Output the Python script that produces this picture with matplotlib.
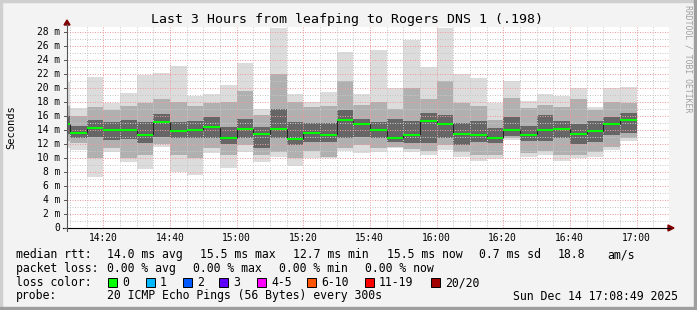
import matplotlib.pyplot as plt
from matplotlib.patches import Rectangle, Polygon
from matplotlib.lines import Line2D
import numpy as np

# 5 minute rounds, end of each round in minutes after 14:00
end_min = np.arange(10, 185, 5)

lo_ms  = [11.5, 11.2, 7.3, 10.8, 9.5, 8.5, 11.6, 8.0, 7.6, 10.7, 8.6, 10.9, 9.5, 10.2, 8.9, 10.0, 10.0, 11.0,
          10.7, 10.8, 11.4, 10.8, 10.5, 11.1, 10.2, 9.6, 9.9, 12.6, 10.2, 10.5, 9.6, 10.0, 10.2, 11.1, 12.4]
p10_ms = [12.5, 12.2, 10.0, 11.5, 10.0, 10.5, 12.0, 10.5, 10.0, 11.4, 10.4, 11.8, 10.5, 10.8, 10.0, 11.0, 10.2, 11.5,
          11.8, 11.5, 11.6, 11.3, 11.0, 11.8, 10.8, 10.5, 10.5, 12.8, 10.7, 11.0, 10.5, 10.5, 10.8, 11.6, 12.8]
p25_ms = [13.5, 12.9, 13.0, 12.6, 12.7, 12.2, 13.0, 12.8, 12.8, 12.8, 12.0, 12.8, 11.5, 12.8, 11.9, 12.3, 12.3, 12.8,
          13.0, 12.8, 12.3, 12.2, 12.2, 12.8, 11.8, 12.3, 12.2, 13.2, 12.4, 12.5, 12.8, 12.0, 12.3, 13.3, 13.6]
med_ms = [14.9, 13.6, 14.3, 14.0, 14.0, 13.3, 15.2, 13.9, 14.0, 14.5, 12.9, 14.1, 13.5, 14.2, 12.7, 13.6, 13.3, 15.5,
          14.8, 14.0, 12.9, 13.3, 15.3, 14.8, 13.5, 13.3, 12.9, 14.0, 13.3, 14.0, 14.2, 13.5, 13.9, 14.8, 15.5]
p75_ms = [16.0, 14.6, 15.5, 15.2, 15.4, 15.2, 16.3, 15.2, 15.3, 15.8, 14.5, 15.5, 14.5, 17.0, 15.2, 15.0, 15.0, 16.8,
          15.6, 15.2, 15.5, 15.3, 16.5, 16.2, 15.0, 15.3, 14.3, 15.8, 14.5, 16.2, 15.3, 14.8, 15.3, 15.8, 16.5]
p90_ms = [17.5, 16.0, 17.3, 16.8, 17.5, 17.9, 18.5, 18.0, 17.5, 17.8, 18.0, 19.5, 16.2, 22.0, 18.0, 17.3, 17.5, 21.0,
          17.5, 18.0, 17.0, 20.0, 18.5, 21.0, 17.8, 17.5, 15.5, 18.5, 17.2, 17.6, 17.3, 18.5, 16.9, 18.0, 17.9]
hi_ms  = [20.9, 17.1, 21.6, 17.9, 19.3, 21.9, 22.1, 23.1, 18.8, 19.2, 20.5, 23.6, 17.0, 28.6, 19.2, 18.0, 19.5, 25.1,
          19.1, 25.4, 20.0, 26.8, 23.0, 28.6, 22.0, 21.5, 17.9, 21.0, 18.1, 19.1, 18.9, 20.0, 17.3, 20.0, 20.2]

tick_min = [20, 40, 60, 80, 100, 120, 140, 160, 180]
tick_lbl = ['14:20', '14:40', '15:00', '15:20', '15:40', '16:00', '16:20', '16:40', '17:00']

loss_lbl = ['0', '1', '2', '3', '4-5', '6-10', '11-19', '20/20']
loss_col = ['#00ff00', '#00b8ff', '#0059ff', '#5e00ff', '#ff00ff', '#ff5500', '#ff0000', '#a10000']
loss_x = [108, 146, 183, 219, 257, 307, 365, 431]

W, H = 697, 310
mono = 'DejaVu Sans Mono'


def fx(x):
    return x / W


def fy(y):
    return 1 - y / H


fig = plt.figure(figsize=(W / 100, H / 100), dpi=100, facecolor='#f3f3f3')
ax = fig.add_axes([fx(67), fy(228), (669 - 67) / W, (228 - 27) / H])
ax.set_facecolor('white')
ax.set_xlim(9.1, 189.7)
ax.set_ylim(0, (228 - 27) / 7)
for s in ax.spines.values():
    s.set_visible(False)

starts = end_min - 5
lo = np.array(lo_ms); hi = np.array(hi_ms)
p10 = np.array(p10_ms); p90 = np.array(p90_ms)
p25 = np.array(p25_ms); p75 = np.array(p75_ms)
med = np.array(med_ms)

ax.bar(starts, hi - lo, bottom=lo, width=5, align='edge', color='#dcdcdc', lw=0, antialiased=False, zorder=1)
ax.bar(starts, p90 - p10, bottom=p10, width=5, align='edge', color='#b0b0b0', lw=0, antialiased=False, zorder=1)
ax.bar(starts, p75 - p25, bottom=p25, width=5, align='edge', color='#666666', lw=0, antialiased=False, zorder=1)

# grid on top of the smoke
for m in np.arange(10, 190, 5):
    maj = m % 20 == 0
    ax.axvline(m, color='#f09a9a' if maj else '#c8c8c8', lw=0.72, ls=(0, (1, 1.5)), zorder=3)
for v in np.arange(1, 29, 1):
    maj = v % 2 == 0
    ax.axhline(v, color='#f09a9a' if maj else '#c8c8c8', lw=0.72, ls=(0, (1, 1.5)), zorder=3)

# median line
ax.hlines(med, starts, end_min, color='#00ff00', lw=1.5, zorder=5)
ax.vlines(end_min[:-1], np.minimum(med[:-1], med[1:]), np.maximum(med[:-1], med[1:]),
          color='#222222', lw=0.72, zorder=4)

ax.set_xticks([])
ax.set_yticks([])

# axes lines and arrows
fig.add_artist(Line2D([fx(63), fx(670)], [fy(228), fy(228)], color='black', lw=0.8))
fig.add_artist(Line2D([fx(67), fx(67)], [fy(231), fy(24)], color='#555555', lw=0.8))
fig.add_artist(Polygon([(fx(668), fy(225)), (fx(668), fy(231)), (fx(674), fy(228))],
                       closed=True, color='#7f0000', transform=fig.transFigure))
fig.add_artist(Polygon([(fx(64), fy(25)), (fx(70), fy(25)), (fx(67), fy(20))],
                       closed=True, color='#7f0000', transform=fig.transFigure))

# tick labels
for m, t in zip(tick_min, tick_lbl):
    x = 67 + (m - 9.1) * 601 / 180.6
    fig.text(fx(x), fy(237.7), t, ha='center', va='center', family=mono, fontsize=6.9)
for v in range(0, 29, 2):
    y = 228 - 7 * v
    fig.text(fx(60), fy(y), '0' if v == 0 else '%d m' % v, ha='right', va='center', family=mono, fontsize=6.9)
    fig.add_artist(Line2D([fx(64), fx(67)], [fy(y), fy(y)], color='#555555', lw=0.7))

fig.text(fx(347), fy(19), 'Last 3 Hours from leafping to Rogers DNS 1 (.198)', ha='center', va='center',
         family=mono, fontsize=9.5)
fig.text(fx(11), fy(127), 'Seconds', rotation=90, ha='center', va='center', family=mono, fontsize=7.5)
fig.text(fx(688), fy(5), 'RRDTOOL / TOBI OETIKER', rotation=270, ha='center', va='top',
         family=mono, fontsize=5.9, color='#a0a0a0')

fs = 8.3
row1 = [(16, 'median rtt:'), (107, '14.0 ms avg'), (200, '15.5 ms max'), (293, '12.7 ms min'),
        (387, '15.5 ms now'), (479, '0.7 ms sd'), (558, '18.8'), (607, 'am/s')]
row2 = [(16, 'packet loss:'), (107, '0.00 % avg'), (193, '0.00 % max'), (279, '0.00 % min'), (365, '0.00 % now')]
for x, t in row1:
    fig.text(fx(x), fy(258), t, ha='left', va='baseline', family=mono, fontsize=fs)
for x, t in row2:
    fig.text(fx(x), fy(272), t, ha='left', va='baseline', family=mono, fontsize=fs)
fig.text(fx(16), fy(286), 'loss color:', ha='left', va='baseline', family=mono, fontsize=fs)
for x, t, c in zip(loss_x, loss_lbl, loss_col):
    fig.add_artist(Rectangle((fx(x), fy(287)), 9 / W, 9 / H, facecolor=c, edgecolor='black', lw=0.7,
                             transform=fig.transFigure))
    fig.text(fx(x + 14), fy(286), t, ha='left', va='baseline', family=mono, fontsize=fs)
fig.text(fx(16), fy(299.5), 'probe:', ha='left', va='baseline', family=mono, fontsize=fs)
fig.text(fx(107), fy(299.5), '20 ICMP Echo Pings (56 Bytes) every 300s', ha='left', va='baseline',
         family=mono, fontsize=fs)
fig.text(fx(513), fy(299.5), 'Sun Dec 14 17:08:49 2025', ha='left', va='baseline', family=mono, fontsize=fs)

# frame shading
fig.add_artist(Rectangle((0, fy(2)), 1, 2 / H, color='#cfcfcf', transform=fig.transFigure))
fig.add_artist(Rectangle((0, 0), 2 / W, 1, color='#cfcfcf', transform=fig.transFigure))
fig.add_artist(Rectangle((0, 0), 1, 3 / H, color='#9e9e9e', transform=fig.transFigure))
fig.add_artist(Rectangle((fx(694), 0), 3 / W, 1, color='#9e9e9e', transform=fig.transFigure))

fig.savefig('out.png', dpi=100, facecolor=fig.get_facecolor())
